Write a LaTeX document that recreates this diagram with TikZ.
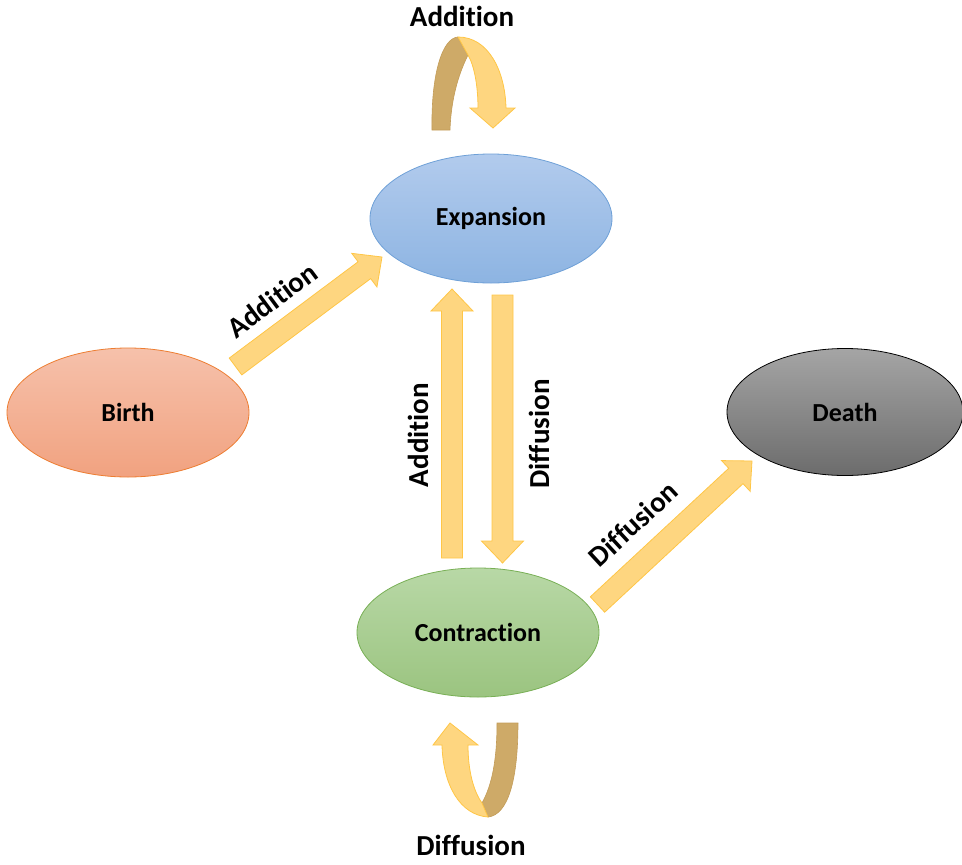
\documentclass[tikz,border=0pt]{standalone}
\usepackage{fontspec}
\setmainfont[Ligatures={NoCommon}]{Carlito}
\usetikzlibrary{calc,shapes.geometric}
\definecolor{arrfill}{RGB}{254,214,128}
\definecolor{arrdraw}{RGB}{255,198,70}
\definecolor{arrdark}{RGB}{206,170,104}
\definecolor{arrdarkdraw}{RGB}{195,156,88}
\definecolor{expT}{RGB}{178,203,237}
\definecolor{expB}{RGB}{141,180,226}
\definecolor{expD}{RGB}{110,160,215}
\definecolor{birT}{RGB}{246,193,171}
\definecolor{birB}{RGB}{241,162,128}
\definecolor{birD}{RGB}{237,125,49}
\definecolor{conT}{RGB}{184,216,166}
\definecolor{conB}{RGB}{155,196,128}
\definecolor{conD}{RGB}{120,175,85}
\definecolor{deaT}{RGB}{165,165,165}
\definecolor{deaB}{RGB}{108,108,108}
\newcommand{\blockarrow}[2]{%
  \coordinate (hb) at ($(#2)!22pt!(#1)$);
  \draw[barrow] ($(#1)!10.5pt!90:(#2)$) -- ($(hb)!10.5pt!-90:(#1)$) -- ($(hb)!21pt!-90:(#1)$) -- (#2)
     -- ($(hb)!21pt!90:(#1)$) -- ($(hb)!10.5pt!90:(#1)$) -- ($(#1)!10.5pt!-90:(#2)$) -- cycle;}
\begin{document}
\begin{tikzpicture}[x=1pt,y=-1pt,
  state/.style={ellipse, minimum width=242pt, minimum height=129pt, inner sep=0pt, line width=0.8pt,
     font=\fontsize{26}{28}\selectfont\bfseries},
  lbl/.style={font=\fontsize{29}{31}\selectfont\bfseries, inner sep=0pt},
  barrow/.style={fill=arrfill, draw=arrdraw, line width=0.8pt, line join=miter},
  bdark/.style={fill=arrdark, draw=arrdarkdraw, line width=0.6pt}]
\useasboundingbox (0,0) rectangle (962,865);

% ellipses
\node[state, top color=expT, bottom color=expB, draw=expD] (exp) at (491,218.5) {Expansion};
\node[state, top color=birT, bottom color=birB, draw=birD] (bir) at (128,412.5) {Birth};
\node[state, top color=conT, bottom color=conB, draw=conD] (con) at (478,632.5) {Contraction};
\node[state, top color=deaT, bottom color=deaB, draw=black, minimum width=236pt, minimum height=127pt] (dea) at (845,412) {Death};

% straight block arrows
\coordinate (a1t) at (235.5,366.5);
\coordinate (a1h) at (382,257);
\coordinate (a2t) at (452,558);
\coordinate (a2h) at (452,289);
\coordinate (a3t) at (502.5,295);
\coordinate (a3h) at (502.5,563);
\coordinate (a4t) at (597.5,604.5);
\coordinate (a4h) at (752,461);
\blockarrow{a1t}{a1h}
\blockarrow{a2t}{a2h}
\blockarrow{a3t}{a3h}
\blockarrow{a4t}{a4h}

% top U-turn arrow
\draw[bdark] (432,130) .. controls (431,75) and (442,38) .. (458,37) -- (468,55)
   .. controls (458,75) and (451,100) .. (450,130) -- cycle;
\draw[barrow] (458,37) .. controls (488,37) and (505,70) .. (506,108) -- (515,108) -- (493,128)
   -- (470,108) -- (478,108) .. controls (478,85) and (474,65) .. (468,55) -- cycle;

% bottom U-turn arrow
\draw[bdark] (497,723) -- (518,723) .. controls (518,780) and (508,815) .. (488,817) -- (482,803)
   .. controls (492,785) and (497,760) .. (497,723) -- cycle;
\draw[barrow] (450,723) -- (478,745) -- (468,745) .. controls (468,772) and (474,792) .. (482,803)
   -- (488,817) .. controls (460,815) and (443,785) .. (442,745) -- (433,745) -- cycle;

% labels
\node[lbl, anchor=base] (ltop) at (462,26) {Addition};
\node[lbl, anchor=base] (lbot) at (471,855) {Diffusion};
\node[lbl, rotate=36.6] (l1) at (272,300) {Addition};
\node[lbl, rotate=90] (l2) at (418,435) {Addition};
\node[lbl, rotate=90] (l3) at (539,434) {Diffusion};
\node[lbl, rotate=42.7] (l4) at (633,524) {Diffusion};
\end{tikzpicture}
\end{document}
